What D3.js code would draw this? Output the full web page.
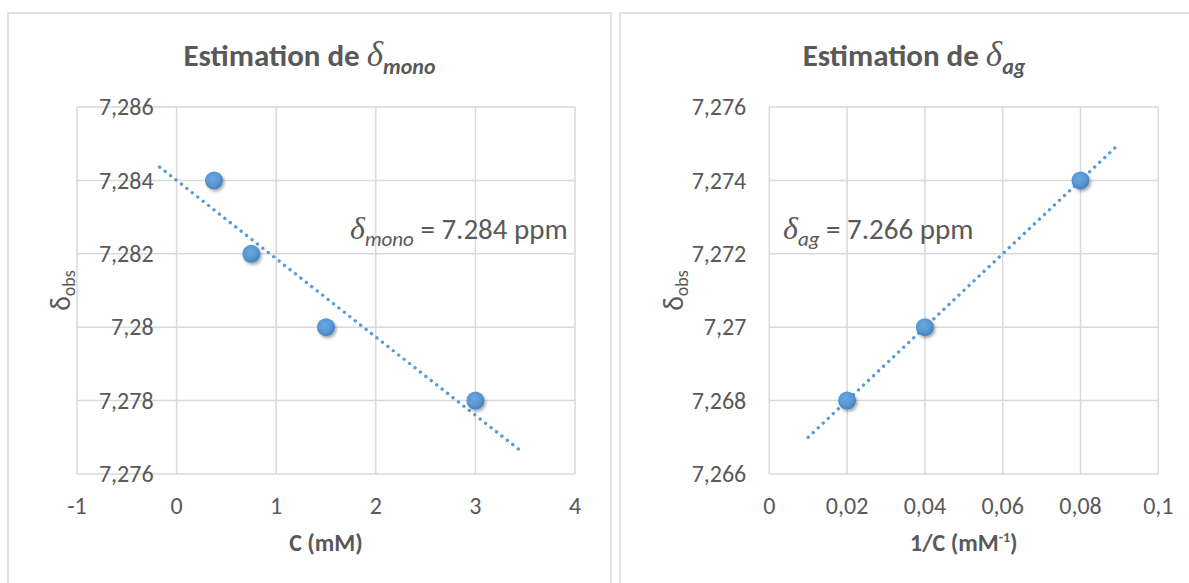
<!DOCTYPE html>
<html>
<head>
<meta charset="utf-8">
<script src="https://cdn.jsdelivr.net/npm/d3@7"></script>
<style>
  html, body { margin: 0; padding: 0; background: #ffffff; }
  svg { display: block; }
  text { font-family: Carlito, Calibri, Lato, "Open Sans", sans-serif; fill: #595959; }
</style>
</head>
<body>
<svg id="chart" width="1189" height="583"></svg>
<script>
// ---------------- Data ----------------
const monoConc = [0.375, 0.75, 1.5, 3];
const monoShift = [7.284, 7.282, 7.280, 7.278];
const monoXTicks = [-1, 0, 1, 2, 3, 4];
const monoYTicks = [7.276, 7.278, 7.280, 7.282, 7.284, 7.286];
const monoTrendRange = [-0.17, 3.47];
const monoTitleSub = "mono";
const monoXLabel = "C (mM)";
const monoNote = ["mono", " = 7.284 ppm"];

const agInvConc = [0.02, 0.04, 0.08];
const agShift = [7.268, 7.270, 7.274];
const agXTicks = [0, 0.02, 0.04, 0.06, 0.08, 0.1];
const agYTicks = [7.266, 7.268, 7.270, 7.272, 7.274, 7.276];
const agTrendRange = [0.01, 0.089];
const agTitleSub = "ag";
const agNote = ["ag", " = 7.266 ppm"];

// ---------------- Setup ----------------
const svg = d3.select("#chart");
const BLUE = "#5b9bd5";
const GRID = "#d9d9d9";

const defs = svg.append("defs");
const grad = defs.append("radialGradient").attr("id", "mk").attr("cx", "42%").attr("cy", "38%").attr("r", "60%");
grad.append("stop").attr("offset", "0%").attr("stop-color", "#6aa7df");
grad.append("stop").attr("offset", "65%").attr("stop-color", "#5897d3");
grad.append("stop").attr("offset", "100%").attr("stop-color", "#4682bf");
const flt = defs.append("filter").attr("id", "sh").attr("x", "-50%").attr("y", "-50%").attr("width", "200%").attr("height", "200%");
flt.append("feDropShadow").attr("dx", 1.5).attr("dy", 2).attr("stdDeviation", 1.6)
  .attr("flood-color", "#000").attr("flood-opacity", 0.35);

const fmt = v => String(+v.toFixed(6)).replace(".", ",");

function regression(xs, ys) {
  const mx = d3.mean(xs), my = d3.mean(ys);
  let sxy = 0, sxx = 0;
  xs.forEach((x, i) => { sxy += (x - mx) * (ys[i] - my); sxx += (x - mx) * (x - mx); });
  const b = sxy / sxx;
  return { slope: b, intercept: my - b * mx };
}

function drawChart(cfg) {
  const g = svg.append("g");
  g.append("rect").attr("x", cfg.panel[0]).attr("y", 13).attr("width", cfg.panel[1] - cfg.panel[0])
    .attr("height", 640).attr("fill", "#fff").attr("stroke", GRID).attr("stroke-width", 1.5);

  const x = d3.scaleLinear().domain(d3.extent(cfg.xTicks)).range(cfg.xRange);
  const y = d3.scaleLinear().domain(d3.extent(cfg.yTicks)).range([474, 107]);

  g.append("g").selectAll("line").data(cfg.xTicks).join("line")
    .attr("x1", d => x(d)).attr("x2", d => x(d)).attr("y1", y.range()[1]).attr("y2", y.range()[0])
    .attr("stroke", GRID).attr("stroke-width", 1.5);
  g.append("g").selectAll("line").data(cfg.yTicks).join("line")
    .attr("x1", x.range()[0]).attr("x2", x.range()[1]).attr("y1", d => y(d)).attr("y2", d => y(d))
    .attr("stroke", GRID).attr("stroke-width", 1.5);

  const axisX = x(0);
  g.append("g").selectAll("text").data(cfg.yTicks).join("text")
    .attr("x", axisX - 23).attr("y", d => y(d)).attr("dy", "0.34em")
    .attr("text-anchor", "end").attr("font-size", 24).text(fmt);
  g.append("g").selectAll("text").data(cfg.xTicks).join("text")
    .attr("x", d => x(d)).attr("y", 514)
    .attr("text-anchor", "middle").attr("font-size", 24).text(fmt);

  const r = regression(cfg.xs, cfg.ys);
  const tr = cfg.trend.map(v => [x(v), y(r.intercept + r.slope * v)]);
  g.append("path").attr("d", d3.line()(tr)).attr("fill", "none")
    .attr("stroke", BLUE).attr("stroke-width", 3.4).attr("stroke-linecap", "round")
    .attr("stroke-dasharray", "0.01 6.9");

  g.append("g").selectAll("circle").data(cfg.xs.map((v, i) => [v, cfg.ys[i]])).join("circle")
    .attr("cx", d => x(d[0])).attr("cy", d => y(d[1])).attr("r", 9)
    .attr("fill", "url(#mk)").attr("filter", "url(#sh)");

  const t = g.append("text").attr("y", 66).attr("font-size", 31).attr("font-weight", "bold");
  t.append("tspan").text("Estimation de ");
  t.append("tspan").attr("font-family", "'Liberation Serif', serif").attr("font-style", "italic")
    .attr("font-weight", "normal").attr("font-size", 35).text("δ");
  t.append("tspan").attr("font-style", "italic").attr("font-size", 22).attr("dy", 8).text(cfg.titleSub);
  const tw = t.node().getComputedTextLength();
  t.attr("x", cfg.titleCenter - tw / 2);

  const xt = g.append("text").attr("y", 551).attr("font-size", 24).attr("font-weight", "bold");
  cfg.xLabel.forEach(p => {
    const s = xt.append("tspan").text(p.t);
    if (p.sup) s.attr("font-size", 14).attr("dy", -9);
    else if (p.after) s.attr("dy", 9);
  });
  const xw = xt.node().getComputedTextLength();
  xt.attr("x", (x.range()[0] + x.range()[1]) / 2 - xw / 2);

  const yc = (y.range()[0] + y.range()[1]) / 2;
  const yt = g.append("text").attr("font-size", 28)
    .attr("transform", `translate(${cfg.yTitleX},${yc}) rotate(-90)`);
  yt.append("tspan").text("δ");
  yt.append("tspan").attr("font-size", 18).attr("dy", 5).text("obs");
  const yw = yt.node().getComputedTextLength();
  yt.attr("x", -yw / 2);

  const a = g.append("text").attr("x", cfg.noteX).attr("y", 239).attr("font-size", 29);
  a.append("tspan").attr("font-family", "'Liberation Serif', serif").attr("font-style", "italic")
    .attr("font-size", 32).text("δ");
  a.append("tspan").attr("font-style", "italic").attr("font-size", 21).attr("dy", 7).text(cfg.note[0]);
  a.append("tspan").attr("dy", -7).text(cfg.note[1]);
}

drawChart({
  panel: [8, 611], titleCenter: 309.5,
  xs: monoConc, ys: monoShift, xTicks: monoXTicks, yTicks: monoYTicks,
  xRange: [77, 575], trend: monoTrendRange, titleSub: monoTitleSub,
  xLabel: [{ t: monoXLabel }], yTitleX: 70, noteX: 350, note: monoNote
});
drawChart({
  panel: [620, 1250], titleCenter: 914,
  xs: agInvConc, ys: agShift, xTicks: agXTicks, yTicks: agYTicks,
  xRange: [769.3, 1158.3], trend: agTrendRange, titleSub: agTitleSub,
  xLabel: [{ t: "1/C (mM" }, { t: "-1", sup: true }, { t: ")", after: true }],
  yTitleX: 683, noteX: 783, note: agNote
});
</script>
</body>
</html>
